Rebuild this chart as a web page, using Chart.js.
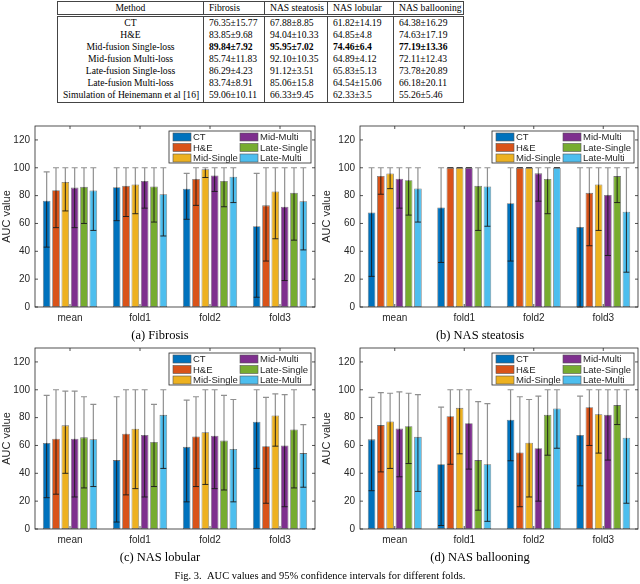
<!DOCTYPE html>
<html>
<head>
<meta charset="utf-8">
<script src="https://cdn.jsdelivr.net/npm/chart.js@4.4.0/dist/chart.umd.min.js"></script>
<style>
  body { margin: 0; background: #fff; width: 640px; height: 584px; position: relative; overflow: hidden;
         font-family: "Liberation Serif", "DejaVu Serif", serif; color: #000; }
  table { position: absolute; left: 57px; top: 1px; width: 406px; table-layout: fixed; border-collapse: collapse;
          font-size: 9.6px; line-height: 12.1px; }
  td, th { padding: 0 5px; font-weight: normal; border-left: 1px solid #444; border-right: 1px solid #444; white-space: nowrap; overflow: hidden; }
  th { text-align: left; border-top: 1px solid #444; border-bottom: 3px double #444; line-height: 11.5px; }
  td { text-align: left; }
  tr:last-child td { border-bottom: 1px solid #444; padding-bottom: 1px; }
  td:first-child, th:first-child { text-align: center; }
  .best { font-weight: bold; }
  canvas { position: absolute; }
  .cap { position: absolute; width: 320px; text-align: center; font-size: 12.5px; }
  .fig { position: absolute; left: 0; width: 640px; top: 570px; text-align: center; font-size: 10.5px; }
</style>
</head>
<body>
<table id="tbl">
  <colgroup><col style="width:146px"><col style="width:61px"><col style="width:63px"><col style="width:66px"><col style="width:70px"></colgroup>
</table>

<canvas id="fibrosis" width="320" height="215" style="left:0;top:115px"></canvas>
<canvas id="steatosis" width="320" height="215" style="left:320px;top:115px"></canvas>
<canvas id="lobular" width="320" height="215" style="left:0;top:337px"></canvas>
<canvas id="ballooning" width="320" height="215" style="left:320px;top:337px"></canvas>

<div class="cap" style="left:0;top:328px">(a) Fibrosis</div>
<div class="cap" style="left:320px;top:328px">(b) NAS steatosis</div>
<div class="cap" style="left:0;top:550px">(c) NAS lobular</div>
<div class="cap" style="left:320px;top:550px">(d) NAS ballooning</div>
<div class="fig">Fig. 3.&nbsp;&nbsp;AUC values and 95% confidence intervals for different folds.</div>

<script>
// Table
const tableHeader = ['Method', 'Fibrosis', 'NAS steatosis', 'NAS lobular', 'NAS ballooning'];
const tableMethods = ['CT', 'H&E', 'Mid-fusion Single-loss', 'Mid-fusion Multi-loss',
    'Late-fusion Single-loss', 'Late-fusion Multi-loss', 'Simulation of Heinemann et al [16]'];
const tableFibrosis = ['76.35±15.77', '83.85±9.68', '89.84±7.92', '85.74±11.83', '86.29±4.23', '83.74±8.91', '59.06±10.11'];
const tableSteatosis = ['67.88±8.85', '94.04±10.33', '95.95±7.02', '92.10±10.35', '91.12±3.51', '85.06±15.8', '66.33±9.45'];
const tableLobular = ['61.82±14.19', '64.85±4.8', '74.46±6.4', '64.89±4.12', '65.83±5.13', '64.54±15.06', '62.33±3.5'];
const tableBallooning = ['64.38±16.29', '74.63±17.19', '77.19±13.36', '72.11±12.43', '73.78±20.89', '66.18±20.11', '55.26±5.46'];
const bestRow = 2;

// Charts
const folds = ['mean', 'fold1', 'fold2', 'fold3'];
const methods = ['CT', 'H&E', 'Mid-Single', 'Mid-Multi', 'Late-Single', 'Late-Multi'];
const COLORS = ['#0072BD', '#D95319', '#EDB120', '#7E2F8E', '#77AC30', '#4DBEEE'];
const yTicks = [0, 20, 40, 60, 80, 100, 120];

// one row per method, one value per fold
const fibrosisAuc = [[76.35, 86, 85, 58], [83.85, 87, 92, 73], [89.84, 88, 99, 83],
    [85.74, 90.5, 94.5, 72], [86.29, 86.5, 90.5, 82], [83.74, 81, 93.5, 76]];
const fibrosisHigh = [[97, 100, 96, 96], [100, 100, 100, 100], [100, 100, 100, 100],
    [100, 100, 100, 100], [100, 100, 100, 100], [100, 100, 100, 100]];
const fibrosisLow = [[43, 62, 63, 7], [57, 65, 73, 33], [69, 67, 93, 49],
    [57, 71, 83, 19], [60, 61, 72, 48], [55, 51, 75, 41]];

const steatosisAuc = [[67.88, 71.5, 74.5, 57.5], [94.04, 100, 100, 82], [95.95, 100, 100, 88],
    [92.10, 100, 96, 80.5], [91.12, 87, 92, 94], [85.06, 86.5, 100, 68.5]];
const steatosisHigh = [[100, 100, 100, 100], [100, 100, 100, 100], [100, 100, 100, 100],
    [100, 100, 100, 100], [100, 100, 100, 100], [100, 100, 100, 100]];
const steatosisLow = [[22, 32, 33, 0], [81, 100, 100, 44], [85, 100, 100, 55],
    [71, 100, 76, 37], [66, 55, 67, 75], [61, 58, 100, 25]];

const lobularAuc = [[61.82, 49.5, 59, 77], [64.85, 68.5, 66.5, 59.5], [74.46, 72, 69.5, 81.5],
    [64.89, 67.5, 67, 60], [65.83, 62.5, 63.5, 71.5], [64.54, 82, 57.5, 54.5]];
const lobularHigh = [[96, 95, 92.5, 100], [100, 100, 95, 94.5], [99, 100, 100, 97],
    [99, 100, 100, 96.5], [95, 89.5, 96, 100], [89.5, 100, 93, 75]];
const lobularLow = [[22.5, 5, 19.5, 43.5], [25, 24.5, 30.5, 18.5], [40, 29, 32, 59.5],
    [23, 23, 29, 16], [29.5, 30.5, 28, 29.5], [30.5, 43.5, 19.5, 30]];

const ballooningAuc = [[64.38, 46.5, 78.5, 67.5], [74.63, 81, 55, 87.5], [77.19, 87, 62, 82.5],
    [72.11, 76, 58, 82], [73.78, 49.5, 82, 89], [66.18, 46.5, 86.5, 65.5]];
const ballooningHigh = [[94.5, 87.5, 100, 95.5], [98, 100, 95, 100], [97.5, 100, 93, 100],
    [98.5, 100, 95.5, 100], [97.5, 91.5, 100, 100], [96.5, 90, 100, 100]];
const ballooningLow = [[27.5, 2.5, 49, 31], [41, 46.5, 16, 60], [43.5, 54, 23, 54.5],
    [37.5, 43, 20, 49.5], [47, 13.5, 53, 75], [27, 5.5, 58, 18.5]];

// build table
const tbl = document.getElementById('tbl');
tbl.insertAdjacentHTML('beforeend', '<tr>' + tableHeader.map(h => `<th>${h}</th>`).join('') + '</tr>' +
    tableMethods.map((m, i) => {
        const cls = i === bestRow ? ' class="best"' : '';
        return `<tr><td>${m.replace('&', '&amp;')}</td>` +
            [tableFibrosis, tableSteatosis, tableLobular, tableBallooning]
                .map(col => `<td${cls}>${col[i]}</td>`).join('') + '</tr>';
    }).join(''));

const TEXT = '#262626';
const SANS = '"Liberation Sans", Arial, sans-serif';

// axis box with inward ticks, like the original
const framePlugin = {
    id: 'frame',
    afterDraw(chart) {
        const { ctx, chartArea: a, scales } = chart;
        ctx.save();
        ctx.strokeStyle = TEXT;
        ctx.lineWidth = 0.8;
        ctx.strokeRect(a.left, a.top, a.right - a.left, a.bottom - a.top);
        ctx.beginPath();
        yTicks.forEach(v => {
            const y = scales.y.getPixelForValue(v);
            ctx.moveTo(a.left, y); ctx.lineTo(a.left + 3, y);
            ctx.moveTo(a.right, y); ctx.lineTo(a.right - 3, y);
        });
        folds.forEach((f, i) => {
            const x = scales.x.getPixelForValue(i);
            ctx.moveTo(x, a.bottom); ctx.lineTo(x, a.bottom - 3);
            ctx.moveTo(x, a.top); ctx.lineTo(x, a.top + 3);
        });
        ctx.stroke();
        ctx.restore();
    }
};

const errorBarPlugin = {
    id: 'errorBars',
    afterDatasetsDraw(chart) {
        const { ctx, scales } = chart;
        ctx.save();
        chart.data.datasets.forEach((ds, di) => {
            chart.getDatasetMeta(di).data.forEach((bar, i) => {
                const x = bar.x;
                const yv = scales.y.getPixelForValue(ds.data[i]);
                const yh = scales.y.getPixelForValue(ds.high[i]);
                const yl = scales.y.getPixelForValue(ds.low[i]);
                ctx.lineWidth = 1.2;
                ctx.strokeStyle = '#909090';
                ctx.beginPath();
                ctx.moveTo(x, yv); ctx.lineTo(x, yh);
                ctx.moveTo(x - 3, yh); ctx.lineTo(x + 3, yh);
                ctx.stroke();
                ctx.lineWidth = 0.9;
                ctx.strokeStyle = '#1a1a1a';
                ctx.beginPath();
                ctx.moveTo(x, yv); ctx.lineTo(x, yl);
                ctx.moveTo(x - 3, yl); ctx.lineTo(x + 3, yl);
                ctx.stroke();
            });
        });
        ctx.restore();
    }
};

// two-column legend in the top right corner of the plot
const legendPlugin = {
    id: 'boxLegend',
    afterDraw(chart) {
        const { ctx, chartArea: a } = chart;
        const w = 142, h = 32;
        const left = a.right - 4 - w, top = a.top + 5;
        ctx.save();
        ctx.fillStyle = '#fff';
        ctx.fillRect(left, top, w, h);
        ctx.strokeStyle = TEXT;
        ctx.lineWidth = 0.8;
        ctx.strokeRect(left, top, w, h);
        ctx.font = '9.5px ' + SANS;
        ctx.textBaseline = 'middle';
        chart.data.datasets.forEach((ds, i) => {
            const col = Math.floor(i / 3), row = i % 3;
            const sx = left + 4 + col * 67;
            const cy = top + 6 + row * 10.5;
            ctx.fillStyle = ds.backgroundColor;
            ctx.fillRect(sx, cy - 4, 18, 8);
            ctx.strokeStyle = '#555';
            ctx.lineWidth = 0.6;
            ctx.strokeRect(sx, cy - 4, 18, 8);
            ctx.fillStyle = TEXT;
            ctx.fillText(ds.label, sx + 20, cy + 0.5);
        });
        ctx.restore();
    }
};

const makeChart = (id, auc, high, low, yWidth, padRight) => {
    const ctx = document.getElementById(id).getContext('2d');
    new Chart(ctx, {
        type: 'bar',
        data: {
            labels: folds,
            datasets: methods.map((m, i) => ({
                label: m,
                data: auc[i],
                high: high[i],
                low: low[i],
                backgroundColor: COLORS[i],
                borderColor: 'rgba(70, 70, 70, 0.75)',
                borderWidth: 0.8,
                borderSkipped: false,
                barPercentage: 0.82,
                categoryPercentage: 0.8
            }))
        },
        options: {
            responsive: false,
            animation: false,
            layout: { padding: { top: 8, right: padRight, left: 0, bottom: 0 } },
            plugins: { legend: { display: false }, tooltip: { enabled: false } },
            scales: {
                x: {
                    grid: { display: false, drawTicks: false },
                    border: { display: false },
                    ticks: { color: TEXT, font: { family: SANS, size: 10 }, padding: 5 },
                    afterFit: s => { s.height = 23; }
                },
                y: {
                    min: 0,
                    max: 130,
                    afterBuildTicks: s => { s.ticks = yTicks.map(v => ({ value: v })); },
                    grid: { display: false, drawTicks: false },
                    border: { display: false },
                    ticks: { color: TEXT, font: { family: SANS, size: 10 }, padding: 5 },
                    title: { display: true, text: 'AUC value', color: TEXT, font: { family: SANS, size: 11 }, padding: 0 },
                    afterFit: s => { s.width = yWidth; }
                }
            }
        },
        plugins: [errorBarPlugin, framePlugin, legendPlugin]
    });
};

makeChart('fibrosis', fibrosisAuc, fibrosisHigh, fibrosisLow, 35, 5);
makeChart('steatosis', steatosisAuc, steatosisHigh, steatosisLow, 40, 2);
makeChart('lobular', lobularAuc, lobularHigh, lobularLow, 35, 5);
makeChart('ballooning', ballooningAuc, ballooningHigh, ballooningLow, 40, 2);
</script>
</body>
</html>
